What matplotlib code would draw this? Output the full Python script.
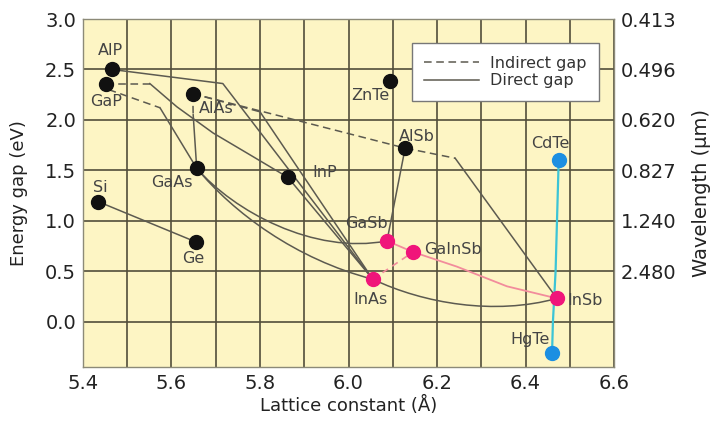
import matplotlib
matplotlib.use("Agg")
import matplotlib.pyplot as plt
from matplotlib.lines import Line2D
from matplotlib.path import Path
from matplotlib.patches import PathPatch

plt.rcParams['font.family'] = ['DejaVu Sans']

# binary compounds: lattice constant (A), energy gap (eV)
black_names = ["AlP", "GaP", "AlAs", "GaAs", "InP", "Si", "Ge", "ZnTe", "AlSb"]
black_a = [5.465, 5.451, 5.648, 5.657, 5.863, 5.434, 5.655, 6.094, 6.128]
black_eg = [2.50, 2.36, 2.26, 1.52, 1.43, 1.19, 0.79, 2.39, 1.72]

pink_names = ["GaSb", "GaInSb", "InAs", "InSb"]
pink_a = [6.087, 6.146, 6.055, 6.471]
pink_eg = [0.80, 0.69, 0.42, 0.23]

blue_names = ["CdTe", "HgTe"]
blue_a = [6.475, 6.460]
blue_eg = [1.60, -0.31]

# ternary lines drawn as polylines
direct_paths = [
    ([5.434, 5.655], [1.19, 0.79]),                                   # Si-Ge
    ([5.465, 5.716, 6.055], [2.50, 2.36, 0.42]),                      # AlP-InAs
    ([5.551, 5.612, 5.694, 5.771, 5.863], [2.36, 2.13, 1.87, 1.67, 1.43]),  # GaP-InP
    ([5.574, 5.657], [2.12, 1.52]),                                   # GaP-GaAs
    ([5.649, 5.657], [2.05, 1.52]),                                   # AlAs-GaAs
    ([5.800, 6.055], [2.08, 0.42]),                                   # AlAs-InAs
    ([6.241, 6.471], [1.62, 0.23]),                                   # AlSb-InSb
    ([6.128, 6.087], [1.72, 0.80]),                                   # AlSb-GaSb
    ([5.863, 6.055], [1.43, 0.42]),                                   # InP-InAs
]
indirect_paths = [
    ([5.451, 5.551], [2.36, 2.36]),                                   # GaP-InP
    ([5.458, 5.574], [2.30, 2.12]),                                   # GaP-GaAs
    ([5.648, 5.649], [2.26, 2.05]),                                   # AlAs-GaAs
    ([5.648, 5.800], [2.26, 2.08]),                                   # AlAs-InAs
    ([5.648, 6.128, 6.241], [2.26, 1.72, 1.62]),                      # AlAs-AlSb-InSb
]
# bowed ternaries as cubic Bezier curves: start, control, control, end
bowed_curves = [
    [(5.657, 1.52), (5.740, 1.10), (5.920, 0.66), (6.087, 0.80)],     # GaAs-GaSb
    [(5.657, 1.52), (5.740, 1.08), (5.880, 0.62), (6.055, 0.42)],     # GaAs-InAs
    [(6.055, 0.42), (6.170, 0.18), (6.330, 0.06), (6.471, 0.23)],     # InAs-InSb
]
gainsb_solid = ([6.087, 6.146, 6.245, 6.358, 6.471], [0.80, 0.69, 0.545, 0.35, 0.23])
gainsb_dashed = ([6.055, 6.146], [0.42, 0.69])
hgcdte = ([6.475, 6.468, 6.462, 6.460], [1.60, 0.50, 0.00, -0.31])

# label anchor positions
label_xy = {
    "AlP": (5.461, 2.69), "GaP": (5.452, 2.18), "AlAs": (5.702, 2.11),
    "GaAs": (5.601, 1.38), "InP": (5.947, 1.48), "Si": (5.438, 1.33),
    "Ge": (5.649, 0.63), "ZnTe": (6.049, 2.24), "AlSb": (6.155, 1.84),
    "CdTe": (6.455, 1.77), "GaSb": (6.040, 0.97), "GaInSb": (6.236, 0.71),
    "InAs": (6.049, 0.22), "InSb": (6.534, 0.21), "HgTe": (6.410, -0.18),
}

right_ticks = [0.5, 1.0, 1.5, 2.0, 2.5, 3.0]
right_labels = ["2.480", "1.240", "0.827", "0.620", "0.496", "0.413"]

line_col = "#5c5a50"
grid_col = "#524e3a"

fig = plt.figure(figsize=(7.12, 4.22), dpi=100)
ax = fig.add_axes([83 / 712, 1 - 367 / 422, 531 / 712, 348 / 422])
ax.set_facecolor("#fdf5c4")
ax.set_xlim(5.4, 6.6)
ax.set_ylim(-0.45, 3.0)

ax.set_xticks([5.4, 5.6, 5.8, 6.0, 6.2, 6.4, 6.6])
ax.set_xticks([5.5, 5.7, 5.9, 6.1, 6.3, 6.5], minor=True)
ax.set_yticks([0.0, 0.5, 1.0, 1.5, 2.0, 2.5, 3.0])
ax.grid(True, which="both", color=grid_col, lw=1.2)
ax.set_axisbelow(True)
ax.tick_params(which="both", length=0, labelsize=14, labelcolor="#222222", pad=5)
for s in ax.spines.values():
    s.set_color("#8c8a78")
    s.set_linewidth(1.0)

for xs, ys in direct_paths:
    ax.plot(xs, ys, color=line_col, lw=1.1, zorder=2)
for xs, ys in indirect_paths:
    ax.plot(xs, ys, color=line_col, lw=1.1, ls=(0, (5, 3)), zorder=2)

codes = [Path.MOVETO, Path.CURVE4, Path.CURVE4, Path.CURVE4]
for pts in bowed_curves:
    ax.add_patch(PathPatch(Path(pts, codes), fc="none", ec=line_col, lw=1.1, zorder=2))

ax.plot(*gainsb_solid, color="#f28c9c", lw=1.3, zorder=2)
ax.plot(*gainsb_dashed, color="#f28c9c", lw=1.2, ls=(0, (4, 3)), zorder=2)
ax.plot(*hgcdte, color="#3cc4d6", lw=1.6, zorder=2)

ax.plot(black_a, black_eg, "o", color="#111111", ms=10, zorder=3)
ax.plot(pink_a, pink_eg, "o", color="#f0157a", ms=10, zorder=3)
ax.plot(blue_a, blue_eg, "o", color="#1c8fe2", ms=10, zorder=3)

for name in black_names + pink_names + blue_names:
    x, y = label_xy[name]
    ax.text(x, y, name, fontsize=11.5, color="#444444", ha="center", va="center", zorder=4)

ax.set_xlabel("Lattice constant (Å)", fontsize=13, color="#222222", labelpad=2)
ax.set_ylabel("Energy gap (eV)", fontsize=13, color="#222222", labelpad=12)

ax2 = ax.twinx()
ax2.set_ylim(ax.get_ylim())
ax2.set_yticks(right_ticks)
ax2.set_yticklabels(right_labels)
ax2.tick_params(length=0, labelsize=14, labelcolor="#222222", pad=5)
ax2.set_ylabel("Wavelength (μm)", fontsize=14, color="#222222", labelpad=11)
for s in ax2.spines.values():
    s.set_visible(False)

handles = [
    Line2D([], [], color=line_col, lw=1.1, ls=(0, (5, 3))),
    Line2D([], [], color=line_col, lw=1.1),
]
leg = ax2.legend(handles, ["Indirect gap", "Direct gap"], loc="upper right",
                 bbox_to_anchor=(0.972, 0.931), borderaxespad=0, fontsize=11.5,
                 frameon=True, fancybox=False, framealpha=1, edgecolor="#777777",
                 handlelength=3.4, handletextpad=0.7, labelspacing=0.15,
                 borderpad=0.8)
for t in leg.get_texts():
    t.set_color("#333333")

fig.savefig("out.png", dpi=100)
